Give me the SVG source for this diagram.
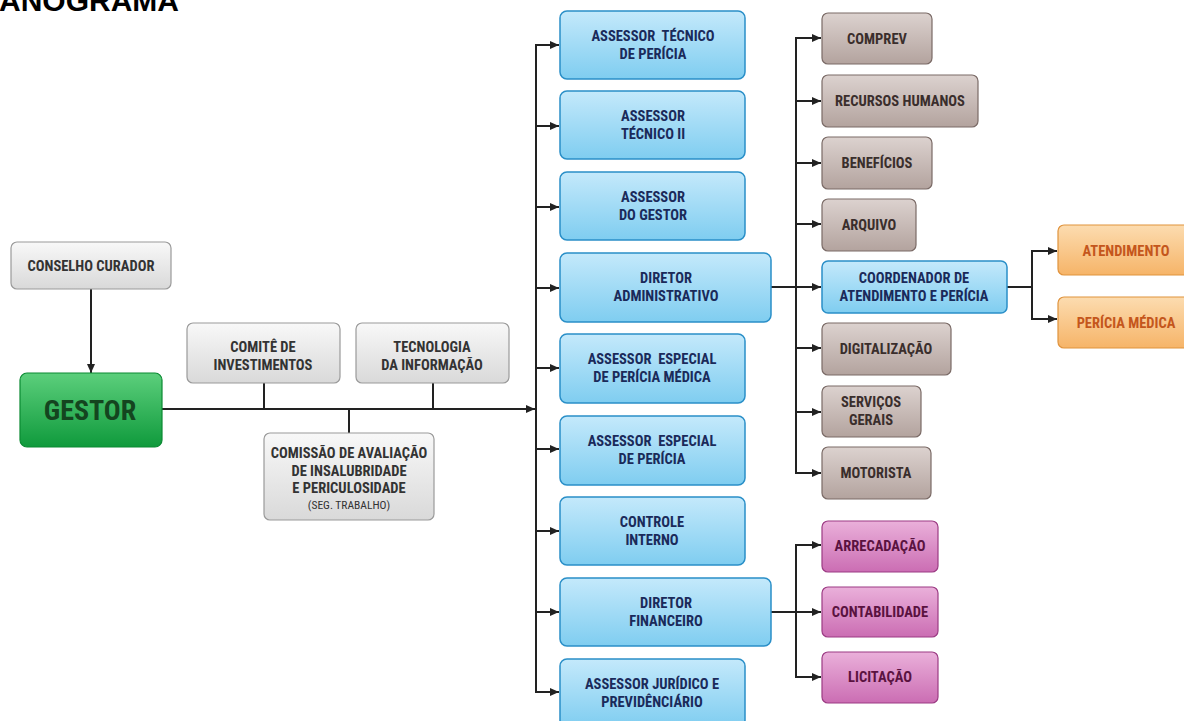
<svg xmlns="http://www.w3.org/2000/svg" width="1184" height="721" viewBox="0 0 1184 721">
<defs>
<linearGradient id="gGray" x1="0" y1="0" x2="0" y2="1"><stop offset="0" stop-color="#f8f8f8"/><stop offset="1" stop-color="#d9d9d9"/></linearGradient>
<linearGradient id="gGreen" x1="0" y1="0" x2="0" y2="1"><stop offset="0" stop-color="#5ccf7c"/><stop offset="1" stop-color="#0f9a3c"/></linearGradient>
<linearGradient id="gBlue" x1="0" y1="0" x2="0" y2="1"><stop offset="0" stop-color="#c4e9fb"/><stop offset="1" stop-color="#7fcdf0"/></linearGradient>
<linearGradient id="gBrown" x1="0" y1="0" x2="0" y2="1"><stop offset="0" stop-color="#dcd2cf"/><stop offset="1" stop-color="#b3a39e"/></linearGradient>
<linearGradient id="gOrange" x1="0" y1="0" x2="0" y2="1"><stop offset="0" stop-color="#fcdcb0"/><stop offset="1" stop-color="#f6b468"/></linearGradient>
<linearGradient id="gPurple" x1="0" y1="0" x2="0" y2="1"><stop offset="0" stop-color="#eab0da"/><stop offset="1" stop-color="#cb6db3"/></linearGradient>
<marker id="arr" markerUnits="userSpaceOnUse" markerWidth="9" markerHeight="8" refX="9" refY="4" orient="auto"><path d="M0,0 L9,4 L0,8 z" fill="#222"/></marker>
</defs>
<style>
.t{font-family:"Liberation Sans Narrow","Roboto Condensed","DejaVu Sans Condensed","Liberation Sans",sans-serif;font-weight:bold;font-size:14.5px;text-anchor:middle}
.gray rect{fill:url(#gGray);stroke:#9a9a9a;stroke-width:1.2}
.gray text{fill:#333}
.green rect{fill:url(#gGreen);stroke:#0b8a33;stroke-width:1.2}
.green text{fill:#14451f}
.blue rect{fill:url(#gBlue);stroke:#2a8fc8;stroke-width:1.5}
.blue text{fill:#1a2a5a}
.brown rect{fill:url(#gBrown);stroke:#7a6a66;stroke-width:1.2}
.brown text{fill:#3a2e2c}
.orange rect{fill:url(#gOrange);stroke:#e0933d;stroke-width:1.2}
.orange text{fill:#c4561c}
.purple rect{fill:url(#gPurple);stroke:#9c3b84;stroke-width:1.2}
.purple text{fill:#5a1240}
.c line{stroke:#222;stroke-width:2}
.c .a{marker-end:url(#arr)}
</style>
<rect width="1184" height="721" fill="#ffffff"/>
<text x="-1" y="11" style="font-family:'Liberation Sans',Arial,sans-serif;font-weight:bold;font-size:30px;fill:#000">ANOGRAMA</text>

<g id="connectors" class="c">
<line class="a" x1="91" y1="289" x2="91" y2="373"/>
<line class="a" x1="162" y1="409" x2="535" y2="409"/>
<line x1="264" y1="383" x2="264" y2="409"/>
<line x1="433" y1="383" x2="433" y2="409"/>
<line x1="349" y1="409" x2="349" y2="433"/>
<line x1="536" y1="44" x2="536" y2="693"/>
<line class="a" x1="535" y1="45" x2="559" y2="45"/>
<line class="a" x1="535" y1="126" x2="559" y2="126"/>
<line class="a" x1="535" y1="207" x2="559" y2="207"/>
<line class="a" x1="535" y1="288" x2="559" y2="288"/>
<line class="a" x1="535" y1="368" x2="559" y2="368"/>
<line class="a" x1="535" y1="449" x2="559" y2="449"/>
<line class="a" x1="535" y1="531" x2="559" y2="531"/>
<line class="a" x1="535" y1="612" x2="559" y2="612"/>
<line class="a" x1="535" y1="692" x2="559" y2="692"/>
<line class="a" x1="771" y1="287" x2="821" y2="287"/>
<line x1="796" y1="37" x2="796" y2="474"/>
<line class="a" x1="795" y1="38" x2="821" y2="38"/>
<line class="a" x1="795" y1="101" x2="821" y2="101"/>
<line class="a" x1="795" y1="163" x2="821" y2="163"/>
<line class="a" x1="795" y1="224" x2="821" y2="224"/>
<line class="a" x1="795" y1="348" x2="821" y2="348"/>
<line class="a" x1="795" y1="412" x2="821" y2="412"/>
<line class="a" x1="795" y1="473" x2="821" y2="473"/>
<line x1="1007" y1="287" x2="1032" y2="287"/>
<line x1="1032" y1="250" x2="1032" y2="320"/>
<line class="a" x1="1031" y1="251" x2="1057" y2="251"/>
<line class="a" x1="1031" y1="319" x2="1057" y2="319"/>
<line class="a" x1="771" y1="612" x2="821" y2="612"/>
<line x1="796" y1="544" x2="796" y2="678"/>
<line class="a" x1="795" y1="545" x2="821" y2="545"/>
<line class="a" x1="795" y1="677" x2="821" y2="677"/>
</g>

<g id="conselho" class="gray"><rect x="11" y="242" width="160" height="47" rx="6"/><text class="t" x="91" y="271">CONSELHO CURADOR</text></g>
<g id="gestor" class="green"><rect x="20" y="373" width="142" height="74" rx="7"/><text class="t" x="90" y="420" style="font-size:28px">GESTOR</text></g>
<g id="comite" class="gray"><rect x="187" y="323" width="153" height="60" rx="6"/><text class="t" x="263" y="352">COMITÊ DE</text><text class="t" x="263" y="370">INVESTIMENTOS</text></g>
<g id="ti" class="gray"><rect x="356" y="323" width="153" height="60" rx="6"/><text class="t" x="432" y="352">TECNOLOGIA</text><text class="t" x="432" y="370">DA INFORMAÇÃO</text></g>
<g id="comissao" class="gray"><rect x="264" y="433" width="170" height="87" rx="6"/><text class="t" x="349" y="458">COMISSÃO DE AVALIAÇÃO</text><text class="t" x="349" y="476">DE INSALUBRIDADE</text><text class="t" x="349" y="493">E PERICULOSIDADE</text><text class="t" x="349" y="509" style="font-weight:normal;font-size:11.5px">(SEG. TRABALHO)</text></g>

<g id="ass-tec-pericia" class="blue"><rect x="560" y="11" width="185" height="68" rx="7"/><text class="t" x="653" y="41">ASSESSOR&#160; TÉCNICO</text><text class="t" x="653" y="59">DE PERÍCIA</text></g>
<g id="ass-tec-2" class="blue"><rect x="560" y="91" width="185" height="68" rx="7"/><text class="t" x="653" y="121">ASSESSOR</text><text class="t" x="653" y="139">TÉCNICO II</text></g>
<g id="ass-gestor" class="blue"><rect x="560" y="172" width="185" height="68" rx="7"/><text class="t" x="653" y="202">ASSESSOR</text><text class="t" x="653" y="220">DO GESTOR</text></g>
<g id="dir-adm" class="blue"><rect x="560" y="253" width="211" height="69" rx="7"/><text class="t" x="666" y="283">DIRETOR</text><text class="t" x="666" y="301">ADMINISTRATIVO</text></g>
<g id="ass-esp-med" class="blue"><rect x="560" y="334" width="185" height="69" rx="7"/><text class="t" x="652" y="364">ASSESSOR&#160; ESPECIAL</text><text class="t" x="652" y="382">DE PERÍCIA MÉDICA</text></g>
<g id="ass-esp-per" class="blue"><rect x="560" y="416" width="185" height="69" rx="7"/><text class="t" x="652" y="446">ASSESSOR&#160; ESPECIAL</text><text class="t" x="652" y="464">DE PERÍCIA</text></g>
<g id="controle" class="blue"><rect x="560" y="497" width="185" height="68" rx="7"/><text class="t" x="652" y="527">CONTROLE</text><text class="t" x="652" y="545">INTERNO</text></g>
<g id="dir-fin" class="blue"><rect x="560" y="578" width="211" height="68" rx="7"/><text class="t" x="666" y="608">DIRETOR</text><text class="t" x="666" y="626">FINANCEIRO</text></g>
<g id="ass-jur" class="blue"><rect x="560" y="659" width="185" height="68" rx="7"/><text class="t" x="652" y="689">ASSESSOR JURÍDICO E</text><text class="t" x="652" y="707">PREVIDÊNCIÁRIO</text></g>

<g id="comprev" class="brown"><rect x="822" y="13" width="110" height="51" rx="6"/><text class="t" x="877" y="44">COMPREV</text></g>
<g id="rh" class="brown"><rect x="822" y="75" width="156" height="52" rx="6"/><text class="t" x="900" y="106">RECURSOS HUMANOS</text></g>
<g id="beneficios" class="brown"><rect x="822" y="137" width="110" height="52" rx="6"/><text class="t" x="877" y="168">BENEFÍCIOS</text></g>
<g id="arquivo" class="brown"><rect x="822" y="199" width="94" height="52" rx="6"/><text class="t" x="869" y="230">ARQUIVO</text></g>
<g id="coordenador" class="blue"><rect x="822" y="261" width="185" height="52" rx="6"/><text class="t" x="914" y="283">COORDENADOR DE</text><text class="t" x="914" y="301">ATENDIMENTO E PERÍCIA</text></g>
<g id="digitalizacao" class="brown"><rect x="822" y="323" width="129" height="52" rx="6"/><text class="t" x="886" y="354">DIGITALIZAÇÃO</text></g>
<g id="servicos" class="brown"><rect x="822" y="386" width="99" height="51" rx="6"/><text class="t" x="871" y="407">SERVIÇOS</text><text class="t" x="871" y="425">GERAIS</text></g>
<g id="motorista" class="brown"><rect x="822" y="447" width="109" height="52" rx="6"/><text class="t" x="876" y="478">MOTORISTA</text></g>

<g id="atendimento" class="orange"><rect x="1058" y="225" width="136" height="50" rx="6"/><text class="t" x="1126" y="256">ATENDIMENTO</text></g>
<g id="pericia-medica" class="orange"><rect x="1058" y="297" width="136" height="51" rx="6"/><text class="t" x="1126" y="328">PERÍCIA MÉDICA</text></g>

<g id="arrecadacao" class="purple"><rect x="822" y="521" width="116" height="51" rx="6"/><text class="t" x="880" y="551">ARRECADAÇÃO</text></g>
<g id="contabilidade" class="purple"><rect x="822" y="587" width="116" height="50" rx="6"/><text class="t" x="880" y="617">CONTABILIDADE</text></g>
<g id="licitacao" class="purple"><rect x="822" y="652" width="116" height="51" rx="6"/><text class="t" x="880" y="682">LICITAÇÃO</text></g>
</svg>
